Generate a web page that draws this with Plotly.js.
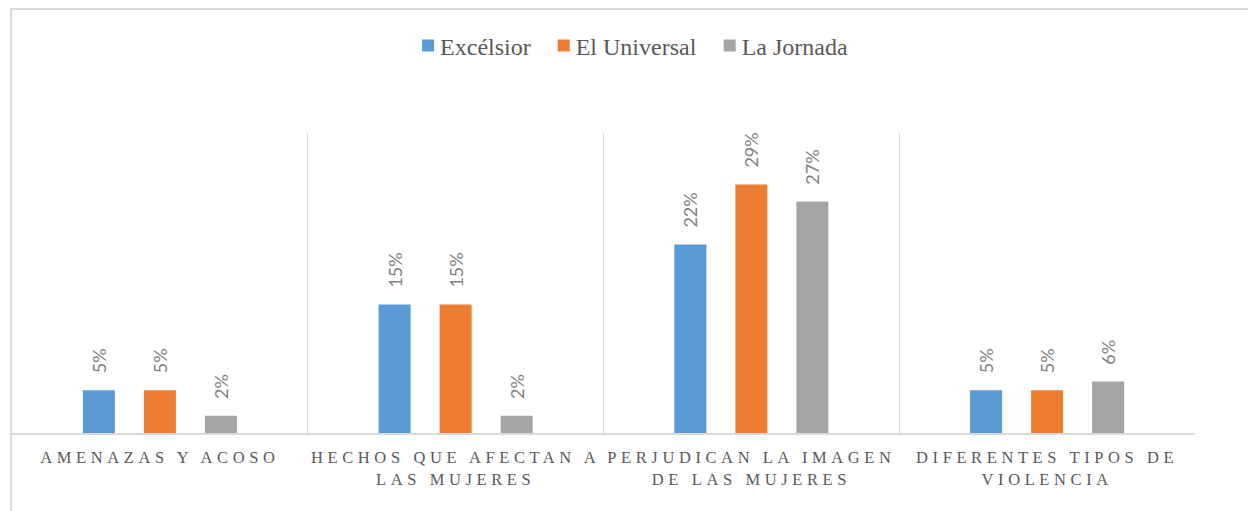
<!DOCTYPE html>
<html>
<head>
<meta charset="utf-8">
<script src="https://cdn.plot.ly/plotly-3.0.1.min.js"></script>
<style>
  html, body { margin: 0; padding: 0; background: #ffffff; overflow: hidden; }
  #frame { position: absolute; left: 10px; top: 8px; width: 1400px; height: 700px;
           border-left: 2px solid #d9d9d9; border-top: 2px solid #d9d9d9; }
  #chart { position: absolute; left: 0; top: 0; width: 1248px; height: 511px; }
  #chart .xtick text { letter-spacing: 4.6px; }
</style>
</head>
<body>
<div id="frame"></div>
<div id="chart"></div>
<script>
// ---- data ----
const categories = [
  "AMENAZAS Y ACOSO",
  "HECHOS QUE AFECTAN A<br>LAS MUJERES",
  "PERJUDICAN LA IMAGEN<br>DE LAS MUJERES",
  "DIFERENTES TIPOS DE<br>VIOLENCIA"
];
const seriesNames = ["Excélsior", "El Universal", "La Jornada"];
const excelsior   = [0.05, 0.15, 0.22, 0.05];
const elUniversal = [0.05, 0.15, 0.29, 0.05];
const laJornada   = [0.02, 0.02, 0.27, 0.06];
const seriesColors = ["#5B9BD5", "#ED7D31", "#A5A5A5"];

const SERIF = "Liberation Serif, Times New Roman, DejaVu Serif, serif";
const NB = "\u00a0\u00a0\u00a0";
function labels(vals) { return vals.map(v => NB + Math.round(v * 100) + "%"); }

const allSeries = [excelsior, elUniversal, laJornada];
const traces = allSeries.map((vals, i) => ({
  type: "bar",
  name: seriesNames[i],
  x: categories,
  y: vals,
  marker: { color: seriesColors[i], line: { width: 0 } },
  text: labels(vals),
  textposition: "outside",
  textangle: -90,
  constraintext: "none",
  cliponaxis: false,
  textfont: { family: "Lato, Open Sans, sans-serif", size: 18, color: "#808080" },
  hoverinfo: "none"
}));

const layout = {
  width: 1248,
  height: 511,
  margin: { l: 12, r: 53, t: 133, b: 78 },
  paper_bgcolor: "rgba(0,0,0,0)",
  plot_bgcolor: "rgba(0,0,0,0)",
  barmode: "group",
  bargap: 0.381,
  bargroupgap: 0.475,
  showlegend: true,
  legend: {
    orientation: "h",
    x: 0.5195, xanchor: "center",
    y: 1.29, yanchor: "middle",
    font: { family: SERIF, size: 24, color: "#595959" },
    traceorder: "normal"
  },
  xaxis: {
    type: "category",
    tickson: "boundaries",
    ticks: "",
    showgrid: true,
    gridcolor: "#d9d9d9",
    gridwidth: 1.3,
    showline: true,
    linecolor: "#d9d9d9",
    linewidth: 1.5,
    zeroline: false,
    ticklabelstandoff: 9,
    tickfont: { family: SERIF, size: 16.5, color: "#595959" },
    automargin: false
  },
  yaxis: {
    range: [0, 0.35],
    visible: false,
    showgrid: false,
    zeroline: false,
    fixedrange: true
  },
  font: { family: SERIF, color: "#595959" }
};

Plotly.newPlot("chart", traces, layout, { displayModeBar: false, staticPlot: true }).then(gd => {
  // bring legend swatches closer to their text, as in the reference
  gd.querySelectorAll(".legend .traces .legendpoints").forEach(g => {
    g.setAttribute("transform", "translate(8,0)");
  });
});
</script>
</body>
</html>
